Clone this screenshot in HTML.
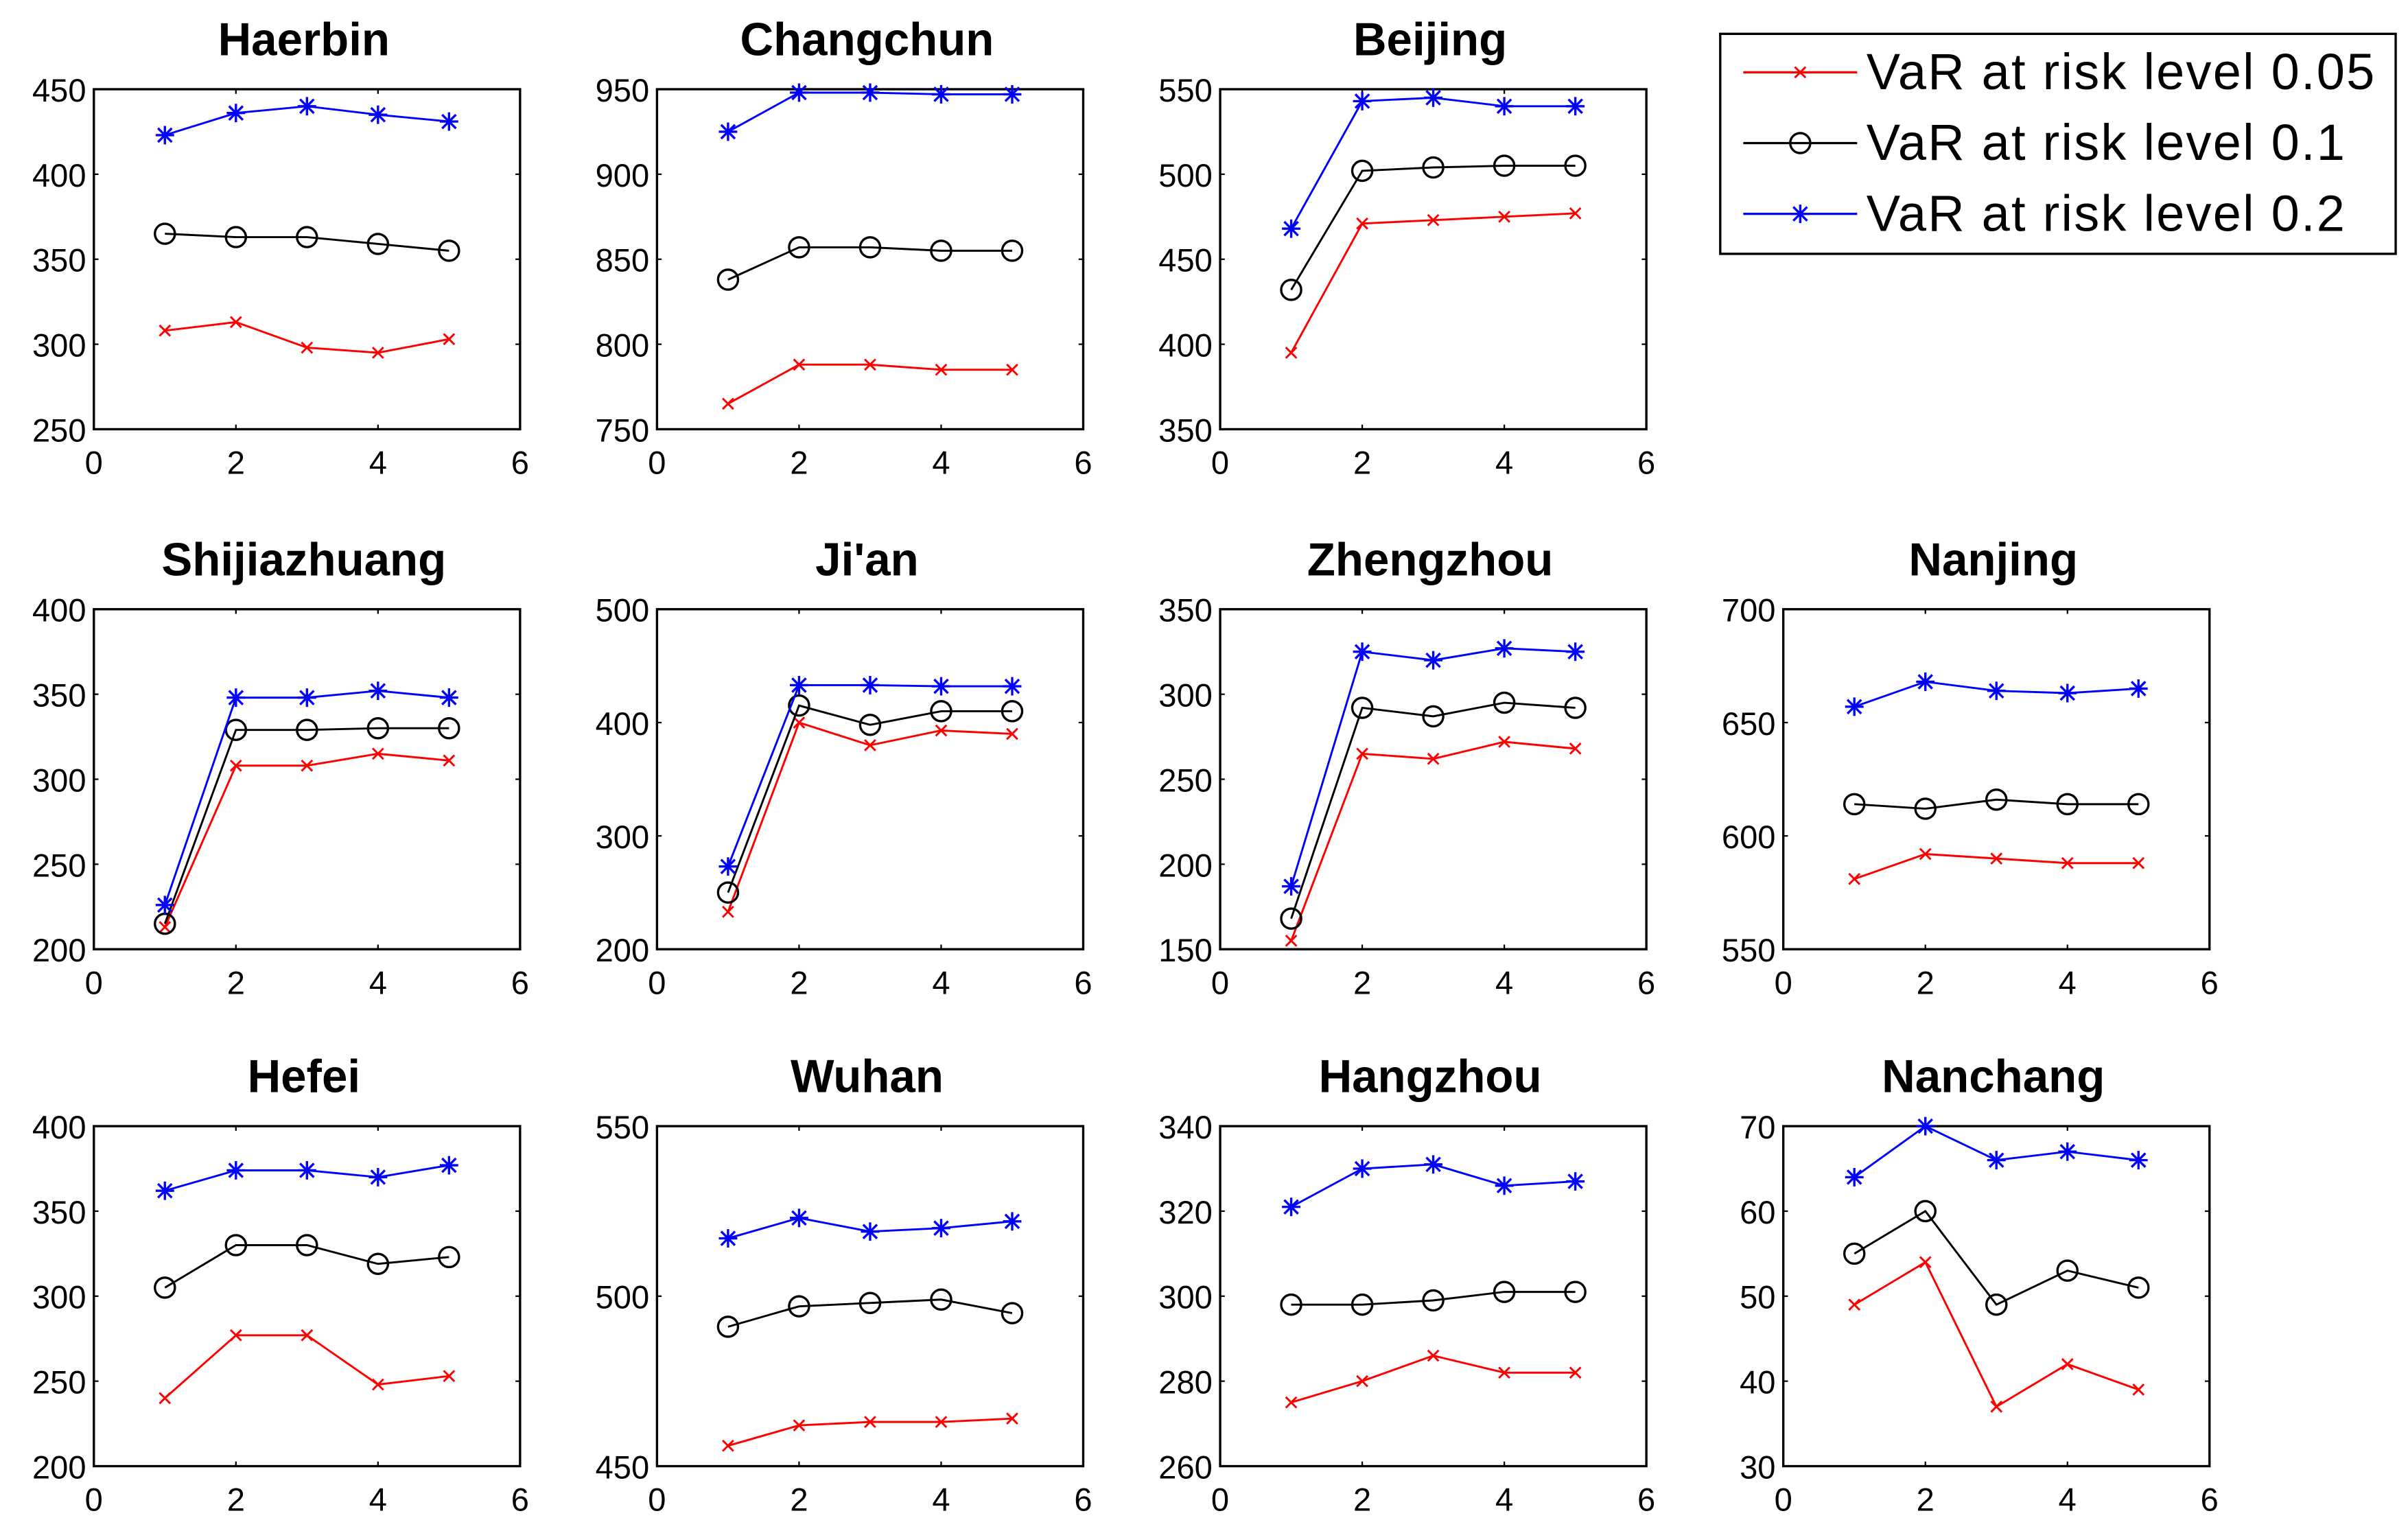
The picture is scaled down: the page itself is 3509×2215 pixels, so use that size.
<!DOCTYPE html>
<html><head><meta charset="utf-8"><style>
html,body{margin:0;padding:0;background:#fff;}
svg{display:block;font-family:"Liberation Sans",Arial,sans-serif;}
</style></head><body>
<svg id="chart" width="3509" height="2215" viewBox="0 0 1565 988" preserveAspectRatio="none" xmlns="http://www.w3.org/2000/svg">
<rect width="1565" height="988" fill="#fff"/>
<g id="legend">
<rect x="1118" y="22" width="439" height="143" fill="#fff" stroke="#000" stroke-width="1.5"/>
</g>
</svg>
<script>
const cities = ["Haerbin","Changchun","Beijing","Shijiazhuang","Ji'an","Zhengzhou","Nanjing","Hefei","Wuhan","Hangzhou","Nanchang"];
const xValues = [1,2,3,4,5];
const xTicks = [0,2,4,6];
const yRanges = [[250,450],[750,950],[350,550],[200,400],[200,500],[150,350],[550,700],[200,400],[450,550],[260,340],[30,70]];
const yTickSteps = [50,50,50,50,100,50,50,50,50,20,10];
const red05 = [[308,313,298,295,303],[765,788,788,785,785],[395,471,473,475,477],[213,308,308,315,311],[233,400,380,393,390],[155,265,262,272,268],[581,592,590,588,588],[240,277,277,248,253],[456,462,463,463,464],[275,280,286,282,282],[49,54,37,42,39]];
const black10 = [[365,363,363,359,355],[838,857,857,855,855],[432,502,504,505,505],[215,329,329,330,330],[250,415,398,410,410],[168,292,287,295,292],[614,612,616,614,614],[305,330,330,319,323],[491,497,498,499,495],[298,298,299,301,301],[55,60,49,53,51]];
const blue20 = [[423,436,440,435,431],[925,948,948,947,947],[468,543,545,540,540],[226,348,348,352,348],[273,433,433,432,432],[187,325,320,327,325],[657,668,664,663,665],[362,374,374,370,377],[517,523,519,520,522],[321,330,331,326,327],[64,70,66,67,66]];
const legendLabels = ["VaR at risk level 0.05","VaR at risk level 0.1","VaR at risk level 0.2"];
const NS="http://www.w3.org/2000/svg";
const svg=document.getElementById('chart');
function mk(tag,attrs,parent){const e=document.createElementNS(NS,tag);for(const k in attrs)e.setAttribute(k,attrs[k]);parent.appendChild(e);return e;}
const panelPos=[[0,0],[1,0],[2,0],[0,1],[1,1],[2,1],[3,1],[0,2],[1,2],[2,2],[3,2]];
const colX=[61,427,793,1159], W=277, rowY=[58,396,732], H=221;
function marker(type,x,y,color,g){
  if(type==='x'){mk('path',{d:`M${x-3.5} ${y-3.5}L${x+3.5} ${y+3.5}M${x-3.5} ${y+3.5}L${x+3.5} ${y-3.5}`,stroke:color,'stroke-width':1.3,fill:'none'},g);}
  else if(type==='o'){mk('circle',{cx:x,cy:y,r:6.5,stroke:color,'stroke-width':1.5,fill:'none'},g);}
  else {mk('path',{d:`M${x-6} ${y}L${x+6} ${y}M${x} ${y-6}L${x} ${y+6}M${x-4.5} ${y-4.5}L${x+4.5} ${y+4.5}M${x-4.5} ${y+4.5}L${x+4.5} ${y-4.5}`,stroke:color,'stroke-width':1.5,fill:'none'},g);}
}
cities.forEach((c,i)=>{
  const L=colX[panelPos[i][0]], T=rowY[panelPos[i][1]];
  const [y0,y1]=yRanges[i];
  const sx=v=>L+v/6*W, sy=v=>T+H-(v-y0)/(y1-y0)*H;
  const g=mk('g',{},svg);
  
  
  const t=mk('text',{x:L+W/2-2,y:T-22,'text-anchor':'middle','font-size':30,'font-weight':'bold',fill:'#000'},g);t.textContent=c;
  
  
  const fr=mk('rect',{x:L,y:T,width:W,height:H,fill:'#fff',stroke:'#000','stroke-width':1.5},g);
  
  
  xTicks.forEach(v=>{const x=sx(v);
    mk('line',{x1:x,y1:T+H,x2:x,y2:T+H-3,stroke:'#000'},g);mk('line',{x1:x,y1:T,x2:x,y2:T+3,stroke:'#000'},g);
    const tx=mk('text',{x:x,y:T+H+29,'text-anchor':'middle','font-size':21,fill:'#000'},g);tx.textContent=v;
    
    });
  for(let v=y0;v<=y1+1e-9;v+=yTickSteps[i]){const y=sy(v);
    mk('line',{x1:L,y1:y,x2:L+3,y2:y,stroke:'#000'},g);mk('line',{x1:L+W,y1:y,x2:L+W-3,y2:y,stroke:'#000'},g);
    const ty=mk('text',{x:L-5,y:y+8,'text-anchor':'end','font-size':21,fill:'#000'},g);ty.textContent=v;
    
    }
  [[red05[i],'#ff0000','x','red'],[black10[i],'#000','o','black'],[blue20[i],'#0000ff','*','blue']].forEach(([d,col,m,n])=>{
    const pts=d.map((v,k)=>sx(xValues[k])+','+sy(v)).join(' ');
    const pl=mk('polyline',{points:pts,fill:'none',stroke:col,'stroke-width':1.3},g);
    
    
    d.forEach((v,k)=>marker(m,sx(xValues[k]),sy(v),col,g));
  });
});
const lg=document.getElementById('legend');
[['#ff0000','x'],['#000','o'],['#0000ff','*']].forEach(([col,m],k)=>{
  const y=47+k*46;
  mk('line',{x1:1133,y1:y,x2:1207,y2:y,stroke:col,'stroke-width':1.5},lg);
  marker(m,1170,y,col,lg);
  const t=mk('text',{x:1213,y:y+11,'font-size':33,'letter-spacing':1,fill:'#000'},lg);t.textContent=legendLabels[k];
  
  
});
</script>
</body></html>
